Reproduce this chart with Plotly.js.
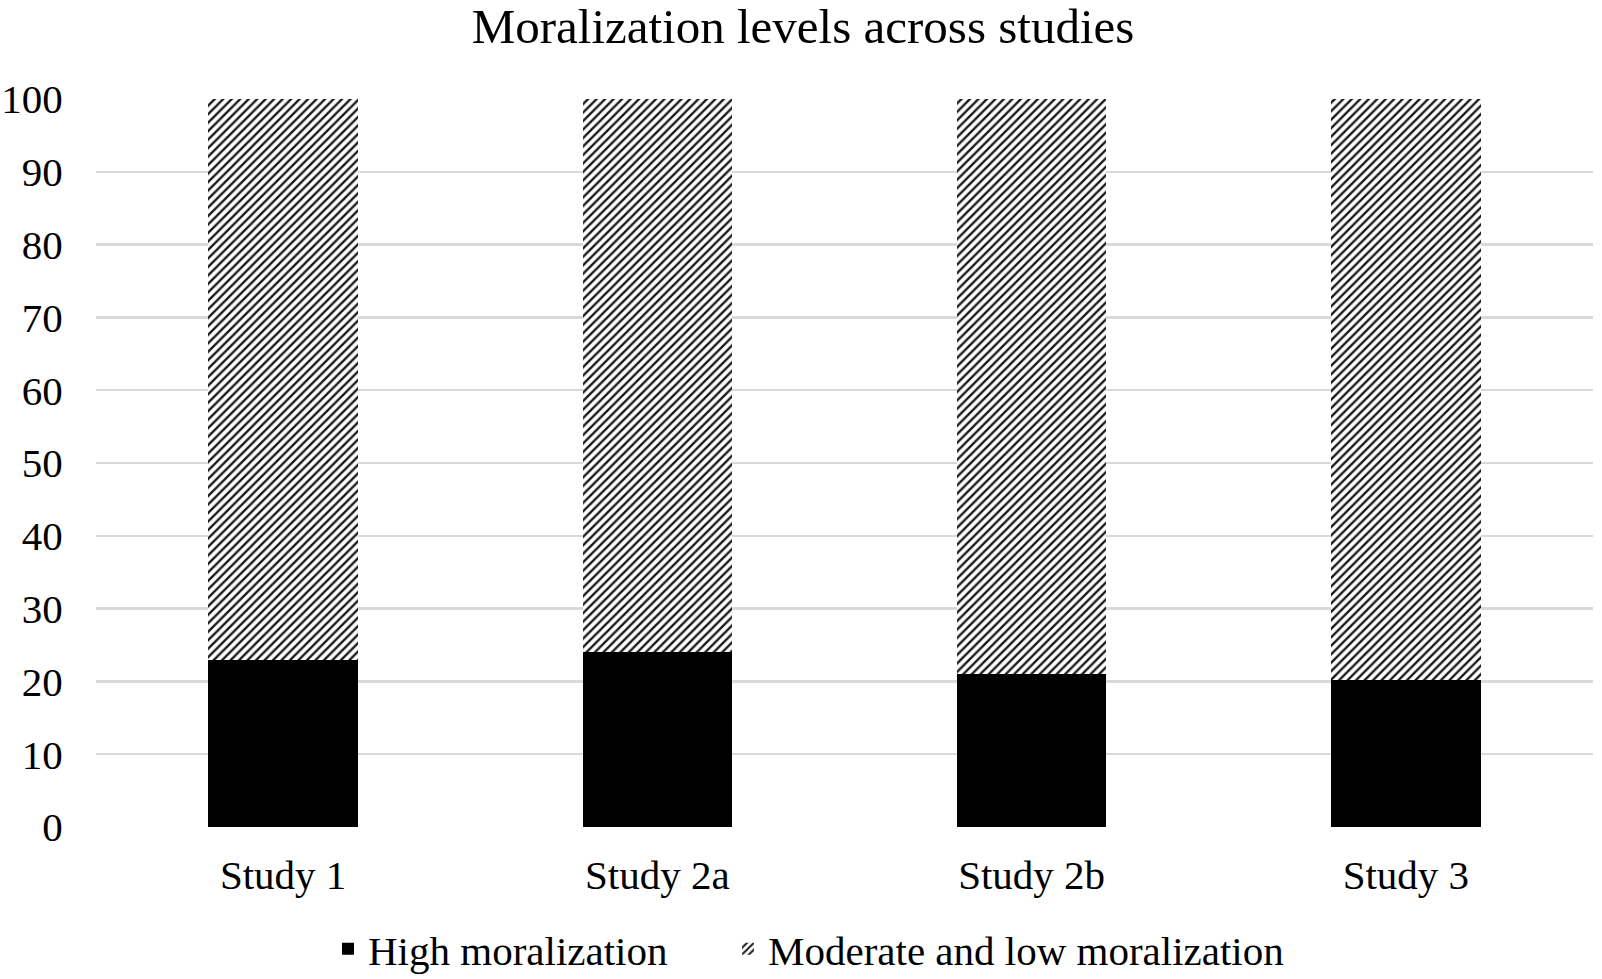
<!DOCTYPE html>
<html>
<head>
<meta charset="utf-8">
<script src="https://cdn.plot.ly/plotly-3.0.1.min.js"></script>
<style>html,body{margin:0;padding:0;background:#fff;}#chart{width:1602px;height:979px;}</style>
</head>
<body>
<div id="chart"></div>
<script>
const categories = ["Study 1", "Study 2a", "Study 2b", "Study 3"];
const highMoralization = [23.0, 24.0, 21.0, 20.2];
const moderateLowMoralization = [77.0, 76.0, 79.0, 79.8];
const yTickValues = [0, 10, 20, 30, 40, 50, 60, 70, 80, 90, 100];

const FONT = "Liberation Serif, Times New Roman, serif";

const traces = [
  {
    type: "bar",
    name: "High moralization",
    x: categories,
    y: highMoralization,
    legend: "legend",
    marker: { color: "#000000", line: { width: 0 } },
    hoverinfo: "skip"
  },
  {
    type: "bar",
    name: "Moderate and low moralization",
    x: categories,
    y: moderateLowMoralization,
    legend: "legend2",
    marker: {
      color: "#ffffff",
      line: { width: 0 },
      pattern: { shape: "/", fgcolor: "#1a1a1a", bgcolor: "#ffffff", size: 6, solidity: 0.4 }
    },
    hoverinfo: "skip"
  }
];

const legendCommon = {
  orientation: "h",
  xref: "container", yref: "container",
  xanchor: "left", yanchor: "middle",
  y: 1 - 949 / 979,
  font: { family: FONT, size: 41, color: "#000000" },
  bgcolor: "rgba(0,0,0,0)",
  borderwidth: 0
};

const layout = {
  width: 1602,
  height: 979,
  paper_bgcolor: "#ffffff",
  plot_bgcolor: "#ffffff",
  font: { family: FONT, color: "#000000", size: 41 },
  barmode: "stack",
  bargap: 0.6,
  margin: { l: 96, r: 9, t: 99, b: 151.5, pad: 0, autoexpand: false },
  title: {
    text: "Moralization levels across studies",
    font: { family: FONT, size: 49, color: "#000000" },
    x: 803 / 1602, xref: "container", xanchor: "center",
    y: 1 - 26.2 / 979, yref: "container", yanchor: "middle"
  },
  xaxis: {
    type: "category",
    showgrid: false,
    showline: false,
    zeroline: false,
    ticks: "outside",
    ticklen: 12,
    tickcolor: "rgba(0,0,0,0)",
    tickfont: { family: FONT, size: 41, color: "#000000" }
  },
  yaxis: {
    range: [0, 100],
    tickvals: yTickValues,
    ticktext: yTickValues.map(String),
    showgrid: true,
    gridcolor: "#d9d9d9",
    gridwidth: 2.5,
    zeroline: false,
    showline: false,
    ticks: "outside",
    ticklen: 24,
    tickcolor: "rgba(0,0,0,0)",
    tickfont: { family: FONT, size: 41, color: "#000000" }
  },
  showlegend: true,
  legend: Object.assign({}, legendCommon, { x: 328 / 1602 }),
  legend2: Object.assign({}, legendCommon, { x: 728 / 1602 })
};

Plotly.newPlot("chart", traces, layout, { displayModeBar: false, staticPlot: true });
</script>
</body>
</html>
